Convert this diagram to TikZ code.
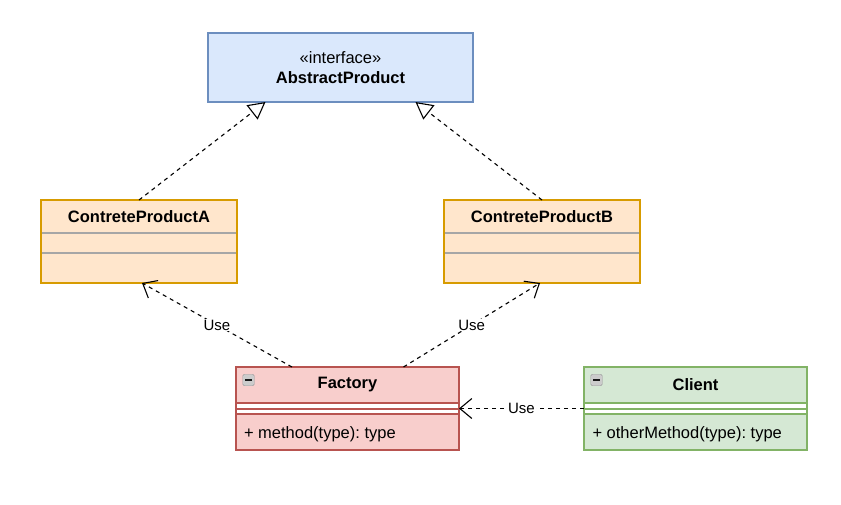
\documentclass[tikz,border=0pt]{standalone}
\usepackage{fontspec}
\setmainfont{Liberation Sans}
\usetikzlibrary{positioning,arrows.meta}
\frenchspacing

\definecolor{ifacefill}{HTML}{DAE8FC}
\definecolor{ifacedraw}{HTML}{6C8EBF}
\definecolor{prodfill}{HTML}{FFE6CC}
\definecolor{proddraw}{HTML}{D79B00}
\definecolor{facfill}{HTML}{F8CECC}
\definecolor{facdraw}{HTML}{B85450}
\definecolor{clifill}{HTML}{D5E8D4}
\definecolor{clidraw}{HTML}{82B366}

\begin{document}
\begin{tikzpicture}[
        x=1pt, y=-1pt,
        every node/.style={outer sep=0pt},
        classbox/.style={
            rectangle,
            draw,
            line width=1.2pt,
            minimum width=#1,
            minimum height=83pt
        },
        title/.style={font=\fontsize{16.5}{20}\selectfont\bfseries, inner sep=0pt},
        member/.style={font=\fontsize{16.5}{20}\selectfont, inner sep=0pt, anchor=west},
        sepline/.style={draw=gray!70, line width=1.2pt},
        fold/.style={
            rectangle,
            rounded corners=1.5pt,
            draw=gray!80,
            fill=gray!40,
            minimum size=11.5pt,
            inner sep=0pt,
            path picture={
                \draw[gray!20!black, line width=1.3pt]
                    ([xshift=2.5pt]path picture bounding box.west) --
                    ([xshift=-2.5pt]path picture bounding box.east);
            }
        },
        realize/.style={
            dash pattern=on 4pt off 4pt,
            line width=1.1pt,
            -{Triangle[open, length=17pt, width=18pt, fill=white]}
        },
        use/.style={
            dash pattern=on 4pt off 4pt,
            line width=1.1pt,
            -{Straight Barb[length=12pt, width=20pt]}
        },
        uselabel/.style={
            fill=white,
            inner sep=1pt,
            font=\fontsize{15}{18}\selectfont
        }
    ]

    \useasboundingbox (0,0) rectangle (841,504);

    % interface
    \node[classbox=265pt, minimum height=69pt, fill=ifacefill, draw=ifacedraw,
          align=center, font=\fontsize{16.5}{20}\selectfont] (abstract) at (340.5,67.5)
        {«interface»\\\textbf{AbstractProduct}};

    % concrete products
    \node[classbox=196pt, fill=prodfill, draw=proddraw] (prodA) at (139,241.5) {};
    \node[classbox=196pt, fill=prodfill, draw=proddraw, right=207pt of prodA] (prodB) {};
    \node[title] (prodAname) at ([yshift=-16.5pt]prodA.north) {ContreteProductA};
    \node[title] (prodBname) at ([yshift=-16.5pt]prodB.north) {ContreteProductB};
    \foreach \p in {prodA,prodB} {
        \draw[sepline] ([xshift=0.6pt,yshift=-33pt]\p.north west) -- ([xshift=-0.6pt,yshift=-33pt]\p.north east);
        \draw[sepline] ([xshift=0.6pt,yshift=-53pt]\p.north west) -- ([xshift=-0.6pt,yshift=-53pt]\p.north east);
    }

    % factory and client
    \node[classbox=223pt, fill=facfill, draw=facdraw] (factory) at (347.5,408.5) {};
    \node[classbox=223pt, fill=clifill, draw=clidraw, right=125pt of factory] (client) {};
    \node[title] (facname) at ([yshift=-18pt]factory.north) {Factory};
    \node[title] (cliname) at ([yshift=-18pt]client.north) {Client};
    \node[fold] (facfold) at ([xshift=12.5pt,yshift=-13pt]factory.north west) {};
    \node[fold] (clifold) at ([xshift=12.5pt,yshift=-13pt]client.north west) {};
    \foreach \c/\col in {factory/facdraw,client/clidraw} {
        \fill[white] ([xshift=0.6pt,yshift=-36pt]\c.north west) rectangle ([xshift=-0.6pt,yshift=-47pt]\c.north east);
        \foreach \d in {36,42,47}
            \draw[\col, line width=1.2pt] ([xshift=0.6pt,yshift=-\d pt]\c.north west) -- ([xshift=-0.6pt,yshift=-\d pt]\c.north east);
    }
    \node[member] (facmeth) at ([xshift=8pt,yshift=-67pt]factory.north west) {+ method(type): type};
    \node[member] (climeth) at ([xshift=8.5pt,yshift=-67pt]client.north west) {+ otherMethod(type): type};

    % connectors
    \draw[realize] (prodA.north) -- ([xshift=-75pt]abstract.south);
    \draw[realize] (prodB.north) -- ([xshift=75pt]abstract.south);
    \draw[use] ([xshift=-55.5pt]factory.north) -- node[uselabel] {Use} ([xshift=3pt]prodA.south);
    \draw[use] ([xshift=56pt]factory.north) -- node[uselabel] {Use} ([xshift=-2pt]prodB.south);
    \draw[use] (client.west) -- node[uselabel] {Use} (factory.east);

\end{tikzpicture}
\end{document}
